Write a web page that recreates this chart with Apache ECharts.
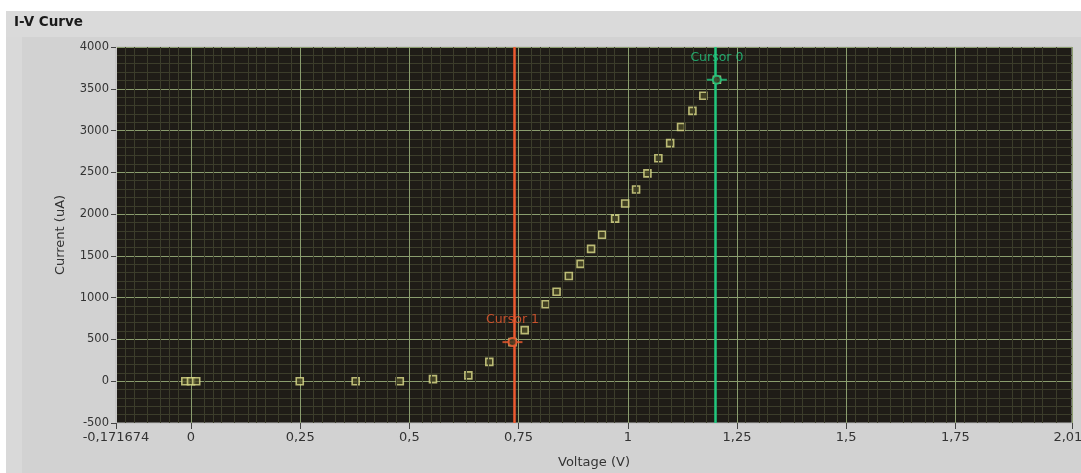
<!DOCTYPE html>
<html>
<head>
    <meta charset="utf-8">
    <title>I-V Curve</title>
    <script src="https://cdn.jsdelivr.net/npm/echarts@6/dist/echarts.min.js"></script>
</head>
<body style="margin:0;padding:0;background:#ffffff;">
<div id="main" style="margin:0px;padding:0px;width:1081px;height:473px;"></div>
<script type="text/javascript">
    // 测量点 (电压 V / 电流 uA)
    var voltage = [-0.013, 0.0, 0.012, 0.249, 0.377, 0.478, 0.554, 0.635, 0.683, 0.736, 0.764,
                   0.812, 0.837, 0.865, 0.892, 0.916, 0.941, 0.971, 0.994, 1.019, 1.045,
                   1.070, 1.097, 1.122, 1.148, 1.173, 1.204];
    var current = [0, 0, 0, 0, 0, 0, 25, 70, 231, 468, 612,
                   922, 1070, 1259, 1404, 1584, 1753, 1946, 2127, 2295, 2488,
                   2669, 2849, 3042, 3235, 3416, 3608];

    // 坐标轴刻度
    var xTicks = [-0.171674, 0, 0.25, 0.5, 0.75, 1, 1.25, 1.5, 1.75, 2.017];
    var xMin = -0.171674, xMax = 2.017;
    var yMin = -500, yMax = 4000, yStep = 500;

    // 游标
    var cursorNames = ['Cursor 0', 'Cursor 1'];
    var cursorX = [1.204, 0.736];
    var cursorY = [3608, 468];
    var cursorColors = ['#22c77f', '#ec5a30'];

    var majorColor = '#8a9d6e', minorColor = '#3c3d2b';

    var pts = voltage.map(function (v, i) { return [v, current[i]]; });

    // x 方向次网格线 (每 0.025)
    var minorX = [];
    for (var k = -6; k <= 80; k++) {
        var v = +(k * 0.025).toFixed(3);
        if (v > xMin && v < xMax && Math.abs(v / 0.25 - Math.round(v / 0.25)) > 1e-6) minorX.push(v);
    }

    function fmt(v) { return String(v).replace('.', ','); }

    var myChart = echarts.init(document.getElementById('main'));

    var cursorSeries = [];
    cursorNames.forEach(function (name, i) {
        cursorSeries.push({
            name: name + ' bar', type: 'scatter', z: 6, silent: true,
            symbol: 'rect', symbolSize: [20, 2],
            itemStyle: {color: cursorColors[i]},
            data: [[cursorX[i], cursorY[i]]],
            markLine: {
                silent: true, symbol: 'none', animation: false,
                label: {show: false},
                lineStyle: {color: cursorColors[i], width: 2.5, type: 'solid'},
                data: [{xAxis: cursorX[i]}]
            }
        });
        cursorSeries.push({
            name: name, type: 'scatter', z: 7, silent: true,
            symbol: 'circle', symbolSize: 8,
            itemStyle: {color: '#3a3620', borderColor: cursorColors[i], borderWidth: 2},
            label: {
                show: true, position: 'top', distance: 11,
                formatter: name, color: cursorColors[i],
                fontFamily: 'DejaVu Sans', fontSize: 12.5
            },
            data: [[cursorX[i], cursorY[i]]]
        });
    });

    var option = {
        animation: false,
        backgroundColor: '#ffffff',
        textStyle: {fontFamily: 'DejaVu Sans'},
        graphic: [
            {type: 'rect', z: -10, shape: {x: 6, y: 11, width: 1075, height: 462}, style: {fill: '#d2d2d2'}},
            {type: 'rect', z: -9, shape: {x: 6, y: 11, width: 1075, height: 26}, style: {fill: '#dadada'}},
            {type: 'rect', z: -9, shape: {x: 6, y: 37, width: 16, height: 436}, style: {fill: '#d9d9d9'}},
            {type: 'text', z: 10, left: 14, top: 15,
             style: {text: 'I-V Curve', fontFamily: 'DejaVu Sans', fontWeight: 'bold', fontSize: 13.5, fill: '#1a1a1a'}}
        ],
        grid: {left: 116, right: 9, top: 47, bottom: 50, show: true,
               containLabel: false, outerBoundsMode: 'none',
               backgroundColor: '#1f1c17', borderColor: '#bdbdbd', borderWidth: 1},
        xAxis: {
            type: 'value', min: xMin, max: xMax,
            name: 'Voltage (V)', nameLocation: 'middle', nameGap: 33,
            nameTextStyle: {color: '#333', fontSize: 13},
            axisLine: {show: true, onZero: false, lineStyle: {color: '#c8c8c8'}},
            axisTick: {show: true, customValues: xTicks, length: 6, lineStyle: {color: '#444'}},
            axisLabel: {customValues: xTicks, color: '#333', fontSize: 13, margin: 8,
                        formatter: function (v) { return fmt(v); }},
            splitLine: {show: true, lineStyle: {color: majorColor, width: 1}}
        },
        yAxis: {
            type: 'value', min: yMin, max: yMax, interval: yStep,
            name: 'Current (uA)', nameLocation: 'middle', nameGap: 49,
            nameTextStyle: {color: '#333', fontSize: 13},
            axisLine: {show: true, onZero: false, lineStyle: {color: '#c8c8c8'}},
            axisTick: {show: true, length: 5, lineStyle: {color: '#444'}},
            axisLabel: {color: '#333', fontSize: 11.5, margin: 7,
                        formatter: function (v) { return String(v); }},
            splitLine: {show: true, lineStyle: {color: majorColor, width: 1}},
            minorTick: {show: false, splitNumber: 5},
            minorSplitLine: {show: true, lineStyle: {color: minorColor, width: 1}}
        },
        series: [
            {
                name: 'grid-x', type: 'scatter', z: 1, silent: true, data: [],
                markLine: {
                    silent: true, symbol: 'none', animation: false, label: {show: false},
                    emphasis: {disabled: true},
                    data: minorX.map(function (v) {
                        return {xAxis: v, lineStyle: {color: minorColor, width: 1, type: 'solid'}};
                    })
                }
            },
            {
                name: 'I-V', type: 'scatter', z: 4,
                symbol: 'rect', symbolSize: 7,
                itemStyle: {color: '#4a4826', borderColor: '#dede8c', borderWidth: 1.6},
                data: pts
            }
        ].concat(cursorSeries)
    };

    myChart.setOption(option);
</script>
</body>
</html>
